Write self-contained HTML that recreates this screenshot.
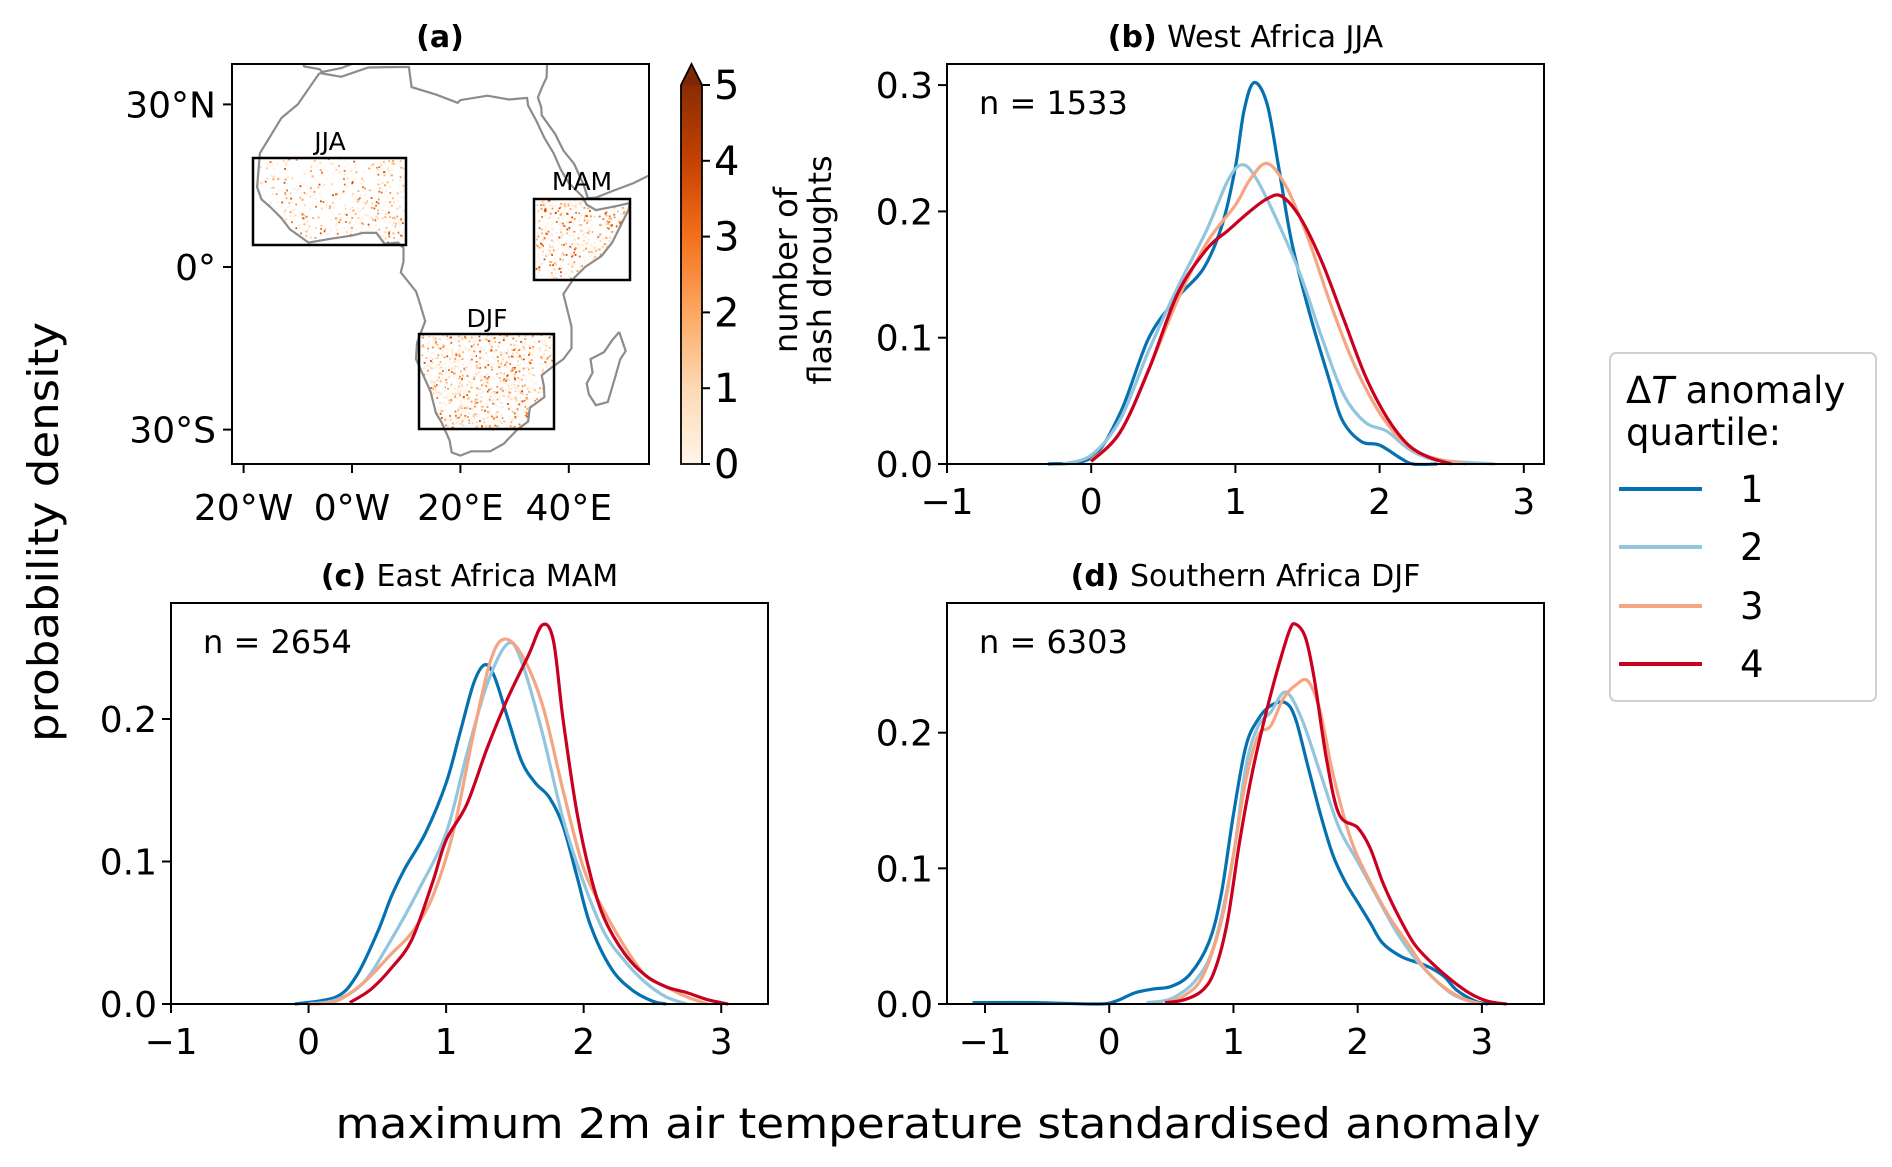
<!DOCTYPE html>
<html><head><meta charset="utf-8">
<style>
body{margin:0;background:#fff;}
svg{display:block;font-family:"DejaVu Sans","Liberation Sans",sans-serif;}
</style></head>
<body>
<svg id="fig" width="1892" height="1167" viewBox="0 0 1892 1167" xmlns="http://www.w3.org/2000/svg">
<defs>
<linearGradient id="cbgrad" x1="0" y1="1" x2="0" y2="0">
<stop offset="0" stop-color="#fff5eb"/><stop offset="0.2" stop-color="#fdd9b4"/>
<stop offset="0.4" stop-color="#fda762"/><stop offset="0.6" stop-color="#f3701b"/>
<stop offset="0.8" stop-color="#c54102"/><stop offset="1" stop-color="#8a2c04"/>
</linearGradient>
<clipPath id="mapclip"><rect x="232" y="64" width="417" height="400"/></clipPath>
</defs>
<g id="root"></g>
</svg>
<script>
// ---------- density data (x = anomaly, y = probability density) ----------
const westX1 = [-0.3,0,0.2,0.4,0.6,0.78,0.91,1.0,1.06,1.13,1.22,1.3,1.39,1.52,1.65,1.74,1.87,2.0,2.14,2.23,2.4];
const westY1 = [0,0.005,0.04,0.1,0.132,0.155,0.19,0.235,0.28,0.302,0.285,0.235,0.176,0.117,0.067,0.035,0.018,0.015,0.005,0,0];
const westX2 = [-0.2,0,0.2,0.4,0.6,0.8,0.95,1.05,1.15,1.3,1.45,1.6,1.75,1.9,2.05,2.2,2.35,2.5,2.8];
const westY2 = [0,0.007,0.035,0.09,0.14,0.185,0.225,0.237,0.225,0.19,0.15,0.1,0.055,0.033,0.026,0.012,0.004,0.002,0];
const westX3 = [0,0.2,0.4,0.6,0.8,1.0,1.1,1.22,1.35,1.5,1.65,1.8,1.95,2.1,2.25,2.4,2.6];
const westY3 = [0.003,0.025,0.075,0.13,0.175,0.205,0.225,0.238,0.22,0.18,0.13,0.085,0.05,0.025,0.01,0.004,0];
const westX4 = [0,0.2,0.4,0.6,0.8,0.95,1.1,1.22,1.32,1.45,1.6,1.75,1.9,2.05,2.2,2.35,2.5];
const westY4 = [0.002,0.025,0.075,0.135,0.17,0.185,0.2,0.21,0.212,0.195,0.16,0.115,0.07,0.037,0.015,0.005,0];

const eastX1 = [-0.1,0.2,0.35,0.5,0.6,0.7,0.85,1.0,1.1,1.2,1.28,1.35,1.45,1.55,1.65,1.75,1.85,1.95,2.05,2.2,2.35,2.5,2.6];
const eastY1 = [0,0.005,0.02,0.05,0.075,0.095,0.12,0.155,0.19,0.225,0.238,0.23,0.2,0.17,0.155,0.145,0.125,0.09,0.055,0.025,0.01,0.002,0];
const eastX2 = [0,0.2,0.4,0.6,0.8,1.0,1.15,1.3,1.45,1.55,1.7,1.85,2.0,2.15,2.3,2.45,2.6,2.75];
const eastY2 = [0,0.003,0.015,0.045,0.08,0.12,0.175,0.225,0.253,0.24,0.19,0.13,0.085,0.05,0.03,0.015,0.005,0];
const eastX3 = [0,0.2,0.4,0.6,0.75,0.9,1.05,1.2,1.32,1.42,1.55,1.7,1.85,2.0,2.15,2.3,2.45,2.6,2.75,2.9];
const eastY3 = [0,0.002,0.015,0.035,0.05,0.075,0.12,0.19,0.24,0.256,0.245,0.21,0.15,0.095,0.065,0.04,0.02,0.012,0.005,0];
const eastX4 = [0.3,0.45,0.6,0.75,0.9,1.0,1.15,1.3,1.45,1.6,1.7,1.78,1.85,1.95,2.05,2.15,2.3,2.45,2.6,2.75,2.9,3.05];
const eastY4 = [0.001,0.01,0.025,0.045,0.085,0.115,0.14,0.18,0.215,0.245,0.266,0.255,0.2,0.135,0.09,0.06,0.035,0.02,0.012,0.008,0.003,0];

const southX1 = [-1.1,-0.6,-0.1,0.05,0.2,0.35,0.5,0.65,0.8,0.9,1.0,1.1,1.2,1.3,1.42,1.5,1.6,1.7,1.8,1.9,2.0,2.1,2.2,2.35,2.5,2.6,2.7,2.8,2.95,3.05];
const southY1 = [0.001,0.001,0,0.002,0.008,0.011,0.013,0.022,0.045,0.08,0.14,0.19,0.21,0.22,0.222,0.21,0.175,0.14,0.11,0.09,0.075,0.06,0.045,0.035,0.03,0.026,0.02,0.01,0.002,0];
const southX2 = [0.3,0.5,0.7,0.85,1.0,1.1,1.2,1.3,1.42,1.55,1.7,1.85,2.0,2.15,2.3,2.45,2.6,2.75,2.9,3.0];
const southY2 = [0.001,0.004,0.018,0.045,0.11,0.175,0.205,0.215,0.23,0.21,0.17,0.13,0.105,0.08,0.055,0.035,0.02,0.008,0.002,0];
const southX3 = [0.45,0.6,0.75,0.9,1.0,1.1,1.2,1.3,1.4,1.5,1.6,1.7,1.8,1.95,2.1,2.25,2.4,2.55,2.7,2.85,3.0];
const southY3 = [0.001,0.006,0.02,0.06,0.11,0.165,0.198,0.205,0.225,0.235,0.238,0.215,0.17,0.12,0.09,0.065,0.045,0.025,0.012,0.004,0];
const southX4 = [0.45,0.6,0.75,0.85,0.95,1.05,1.15,1.25,1.35,1.45,1.5,1.58,1.65,1.75,1.85,2.0,2.1,2.2,2.3,2.45,2.6,2.75,2.9,3.05,3.2];
const southY4 = [0.001,0.003,0.01,0.025,0.06,0.12,0.17,0.21,0.245,0.275,0.28,0.27,0.24,0.18,0.14,0.13,0.115,0.09,0.07,0.045,0.03,0.018,0.008,0.002,0];

const quartileLabels = ["1","2","3","4"];
const xTickLabels = [-1,0,1,2,3];
const yTicksAB = [0,0.1,0.2,0.3];
const yTicksCD = [0,0.1,0.2];
const cbTicks = [0,1,2,3,4,5];
const lonTicks = [-20,0,20,40];
const lonLabels = ["20°W","0°W","20°E","40°E"];
const latTicks = [30,0,-30];
const latLabels = ["30°N","0°","30°S"];

const COLORS = ["#0571b0","#92c5de","#f4a582","#ca0020"];
const NS = "http://www.w3.org/2000/svg";
const root = document.getElementById('root');
function mk(tag, attrs, parent){const e=document.createElementNS(NS,tag);for(const k in attrs)e.setAttribute(k,attrs[k]);(parent||root).appendChild(e);return e;}
function txt(s, attrs, parent){const e=mk('text',attrs,parent);e.textContent=s;return e;}

function smoothPath(pts){
  let d="M"+pts[0][0].toFixed(1)+","+pts[0][1].toFixed(1);
  for(let i=0;i<pts.length-1;i++){
    const p0=pts[i-1]||pts[i],p1=pts[i],p2=pts[i+1],p3=pts[i+2]||p2;
    const c1=[p1[0]+(p2[0]-p0[0])/6,p1[1]+(p2[1]-p0[1])/6];
    const c2=[p2[0]-(p3[0]-p1[0])/6,p2[1]-(p3[1]-p1[1])/6];
    d+=" C"+c1[0].toFixed(1)+","+c1[1].toFixed(1)+" "+c2[0].toFixed(1)+","+c2[1].toFixed(1)+" "+p2[0].toFixed(1)+","+p2[1].toFixed(1);
  }
  return d;
}

function panel(cfg){
  const g=mk('g',{});
  
  
  const sx=v=>cfg.x0+(v-cfg.xmin)/(cfg.xmax-cfg.xmin)*(cfg.x1-cfg.x0);
  const sy=v=>cfg.y1-(v-0)/(cfg.ymax)*(cfg.y1-cfg.y0);
  const t=mk('text',{x:(cfg.x0+cfg.x1)/2,y:cfg.y0-17,'text-anchor':'middle','font-size':30},g);
  
  
  const b=document.createElementNS(NS,'tspan');b.setAttribute('font-weight','bold');b.textContent=cfg.tag+" ";t.appendChild(b);
  const r=document.createElementNS(NS,'tspan');r.textContent=cfg.title;t.appendChild(r);
  cfg.series.forEach((s,i)=>{
    const pts=s[0].map((xv,j)=>[sx(xv),sy(s[1][j])]);
    const p=mk('path',{d:smoothPath(pts),fill:'none',stroke:COLORS[i],'stroke-width':3.2,'stroke-linejoin':'round'},g);
    
    
  });
  const fr=mk('rect',{x:cfg.x0,y:cfg.y0,width:cfg.x1-cfg.x0,height:cfg.y1-cfg.y0,fill:'none',stroke:'#000','stroke-width':2},g);
  
  
  xTickLabels.forEach(v=>{
    const X=sx(v);
    mk('line',{x1:X,x2:X,y1:cfg.y1,y2:cfg.y1+9,stroke:'#000','stroke-width':2},g);
    const l=txt(v<0?"\u2212"+Math.abs(v):String(v),{x:X,y:cfg.y1+50,'text-anchor':'middle','font-size':36},g);
    
    
  });
  cfg.yticks.forEach(v=>{
    const Y=sy(v);
    mk('line',{x1:cfg.x0-9,x2:cfg.x0,y1:Y,y2:Y,stroke:'#000','stroke-width':2},g);
    const l=txt(v.toFixed(1),{x:cfg.x0-14,y:Y+13,'text-anchor':'end','font-size':36},g);
    
    
  });
  const n=txt(cfg.n,{x:cfg.x0+32,y:cfg.y0+50,'font-size':32},g);
  
  
}

panel({name:'panel-b-west-africa',tag:'(b)',title:'West Africa JJA',x0:947,x1:1544,y0:64,y1:464,xmin:-1,xmax:3.14,ymax:0.3167,yticks:yTicksAB,n:'n = 1533',
  series:[[westX1,westY1],[westX2,westY2],[westX3,westY3],[westX4,westY4]]});
panel({name:'panel-c-east-africa',tag:'(c)',title:'East Africa MAM',x0:171,x1:768,y0:603,y1:1004,xmin:-1,xmax:3.34,ymax:0.2814,yticks:yTicksCD,n:'n = 2654',
  series:[[eastX1,eastY1],[eastX2,eastY2],[eastX3,eastY3],[eastX4,eastY4]]});
panel({name:'panel-d-southern-africa',tag:'(d)',title:'Southern Africa DJF',x0:947,x1:1544,y0:603,y1:1004,xmin:-1.306,xmax:3.5,ymax:0.2956,yticks:yTicksCD,n:'n = 6303',
  series:[[southX1,southY1],[southX2,southY2],[southX3,southY3],[southX4,southY4]]});

// ---------- map panel (a) ----------
const mg=mk('g',{});


const lonX=lo=>352+lo*5.42, latY=la=>267-la*5.42;
const at=txt('(a)',{x:440,y:47,'text-anchor':'middle','font-size':30,'font-weight':'bold'},mg);


const africa=[[-6,35.8],[-10,30],[-13,27.5],[-17,21],[-17.5,14.7],[-16.7,12.5],[-15,11],[-13,9],[-11.5,7],[-8,4.5],[-4,5.2],[0,5.8],[2,6.3],[4.5,6.3],[6,4.3],[8.5,4.5],[9.5,3.5],[9.5,1],[9,-1],[11.8,-4.5],[12.3,-6],[13.5,-10],[12,-14],[11.8,-17],[14.5,-23],[15.5,-27],[16.5,-28.6],[18,-32],[18.4,-34.2],[20,-34.8],[22,-34],[25.5,-34],[28,-32.6],[30.5,-30],[32.5,-28.5],[32.8,-26],[35.5,-24],[35.4,-22],[35,-20],[36.5,-18.8],[39,-17],[40.5,-15],[40.5,-11],[39.5,-7],[39,-5],[41,-2],[43,0],[46,2],[48,4.5],[49.5,7.5],[51,10.5],[51.3,11.8],[49,11.3],[45,10.5],[43.3,11.5],[42.5,13],[40,15.5],[38.5,18],[37.2,21],[35.5,23.8],[34,27],[32.5,29.8],[32.3,31.2],[29,30.9],[25,31.6],[20,30.8],[19.5,30.3],[15.5,31.8],[11,33.2],[10.5,36.9],[8.5,36.9],[3,36.8],[-2,35.1],[-6,35.8]];
const mada=[[49.3,-12],[50.5,-15.5],[49.5,-17],[48.5,-20.5],[47.2,-24.9],[45,-25.5],[43.7,-23.5],[43.3,-21.5],[44.4,-19.5],[44,-17],[46.5,-15.7],[48,-13.5],[49.3,-12]];
const arabia=[[56,17.5],[52,15.5],[48,14],[45,12.8],[43.5,12.7],[42.8,15],[41,19],[39,21.5],[37.5,24.5],[35,28],[34.9,29.5],[34.3,31.3],[35,33],[35.9,35],[36,37.5]];
const europe=[[-9,37.5],[-8.8,37],[-6,36.5],[-5.5,36],[-2,36.7],[0,37.5]];
const poly=a=>a.map((p,i)=>(i?"L":"M")+lonX(p[0]).toFixed(1)+","+latY(p[1]).toFixed(1)).join(" ");
const defs=document.querySelector('defs');
const lc=mk('clipPath',{id:'landclip'},defs);
mk('path',{d:poly(africa)+"Z"},lc);
let seed=7;const rnd=()=>{seed=(seed*16807)%2147483647;return seed/2147483647;};
const regions=[[253,158,406,245,0.18],[534,199,630,280,0.35],[419,334,554,429,0.38]];
const heat=mk('g',{'clip-path':'url(#landclip)'},mg);


const shades=["#fff1e2","#fee6ce","#fdd0a2","#fdae6b","#fd8d3c","#f16913","#d94801"];
regions.forEach(r=>{
  const cnt=Math.round((r[2]-r[0])*(r[3]-r[1])*r[4]*0.25);
  for(let i=0;i<cnt;i++){
    const x=r[0]+rnd()*(r[2]-r[0]),y=r[1]+rnd()*(r[3]-r[1]);
    const k=Math.min(6,Math.floor(Math.pow(rnd(),2.2)*7));
    mk('rect',{x:x.toFixed(1),y:y.toFixed(1),width:1.8,height:1.8,fill:shades[k]},heat);
  }
});
const coast=mk('g',{'clip-path':'url(#mapclip)',fill:'none',stroke:'#8c8c8c','stroke-width':2.2},mg);


mk('path',{d:poly(africa)},coast);mk('path',{d:poly(mada)},coast);mk('path',{d:poly(arabia)},coast);mk('path',{d:poly(europe)},coast);
[[253,158,406,245,'JJA',330,150],[534,199,630,280,'MAM',582,190],[419,334,554,429,'DJF',487,327]].forEach(b=>{
  const bx=mk('rect',{x:b[0],y:b[1],width:b[2]-b[0],height:b[3]-b[1],fill:'none',stroke:'#000','stroke-width':2.5},mg);
  
  
  const l=txt(b[4],{x:b[5],y:b[6],'text-anchor':'middle','font-size':25},mg);
  
  
});
const mf=mk('rect',{x:232,y:64,width:417,height:400,fill:'none',stroke:'#000','stroke-width':2},mg);


lonTicks.forEach((lo,i)=>{const X=lonX(lo);
  mk('line',{x1:X,x2:X,y1:464,y2:473,stroke:'#000','stroke-width':2},mg);
  const l=txt(lonLabels[i],{x:X,y:520,'text-anchor':'middle','font-size':36},mg);
  
  });
latTicks.forEach((la,i)=>{const Y=latY(la);
  mk('line',{x1:223,x2:232,y1:Y,y2:Y,stroke:'#000','stroke-width':2},mg);
  const l=txt(latLabels[i],{x:216,y:Y+13,'text-anchor':'end','font-size':36},mg);
  
  });
const cb=mk('g',{},mg);


mk('rect',{x:681,y:85,width:21,height:379,fill:'url(#cbgrad)'},cb);
mk('path',{d:'M681,85 L691.5,64 L702,85 Z',fill:'#7f2704'},cb);
mk('path',{d:'M681,85 L691.5,64 L702,85 L702,464 L681,464 Z',fill:'none',stroke:'#000','stroke-width':1.8},cb);
cbTicks.forEach(v=>{const Y=464-v*379/5;
  mk('line',{x1:702,x2:710,y1:Y,y2:Y,stroke:'#000','stroke-width':2},cb);
  const l=txt(String(v),{x:714,y:Y+14,'font-size':40},cb);
  
  });
const cl=mk('text',{transform:'translate(797,270) rotate(-90)','text-anchor':'middle','font-size':32},cb);


const t1=document.createElementNS(NS,'tspan');t1.setAttribute('x',0);t1.setAttribute('y',0);t1.textContent='number of';cl.appendChild(t1);
const t2=document.createElementNS(NS,'tspan');t2.setAttribute('x',0);t2.setAttribute('y',34);t2.textContent='flash droughts';cl.appendChild(t2);

const yl=txt('probability density',{transform:'translate(58,532) rotate(-90)','text-anchor':'middle','font-size':42,textLength:420,lengthAdjust:'spacingAndGlyphs'});


const xl=txt('maximum 2m air temperature standardised anomaly',{x:938,y:1138,'text-anchor':'middle','font-size':42,textLength:1205,lengthAdjust:'spacingAndGlyphs'});



const lg=mk('g',{});


mk('rect',{x:1610,y:353,width:266,height:348,rx:6,fill:'#fff',stroke:'#d0d0d0','stroke-width':2},lg);
const lt=mk('text',{x:1626,y:403,'font-size':37},lg);


const s1=document.createElementNS(NS,'tspan');s1.textContent='\u0394';lt.appendChild(s1);
const s2=document.createElementNS(NS,'tspan');s2.setAttribute('font-style','italic');s2.textContent='T';lt.appendChild(s2);
const s3=document.createElementNS(NS,'tspan');s3.textContent=' anomaly';lt.appendChild(s3);
txt('quartile:',{x:1626,y:445,'font-size':37},lg);
const legY=[489,547,606,664];
quartileLabels.forEach((q,i)=>{
  const ln=mk('line',{x1:1619,x2:1702,y1:legY[i],y2:legY[i],stroke:COLORS[i],'stroke-width':4},lg);
  
  
  txt(q,{x:1740,y:legY[i]+13,'font-size':37},lg);
});
</script>
</body></html>
